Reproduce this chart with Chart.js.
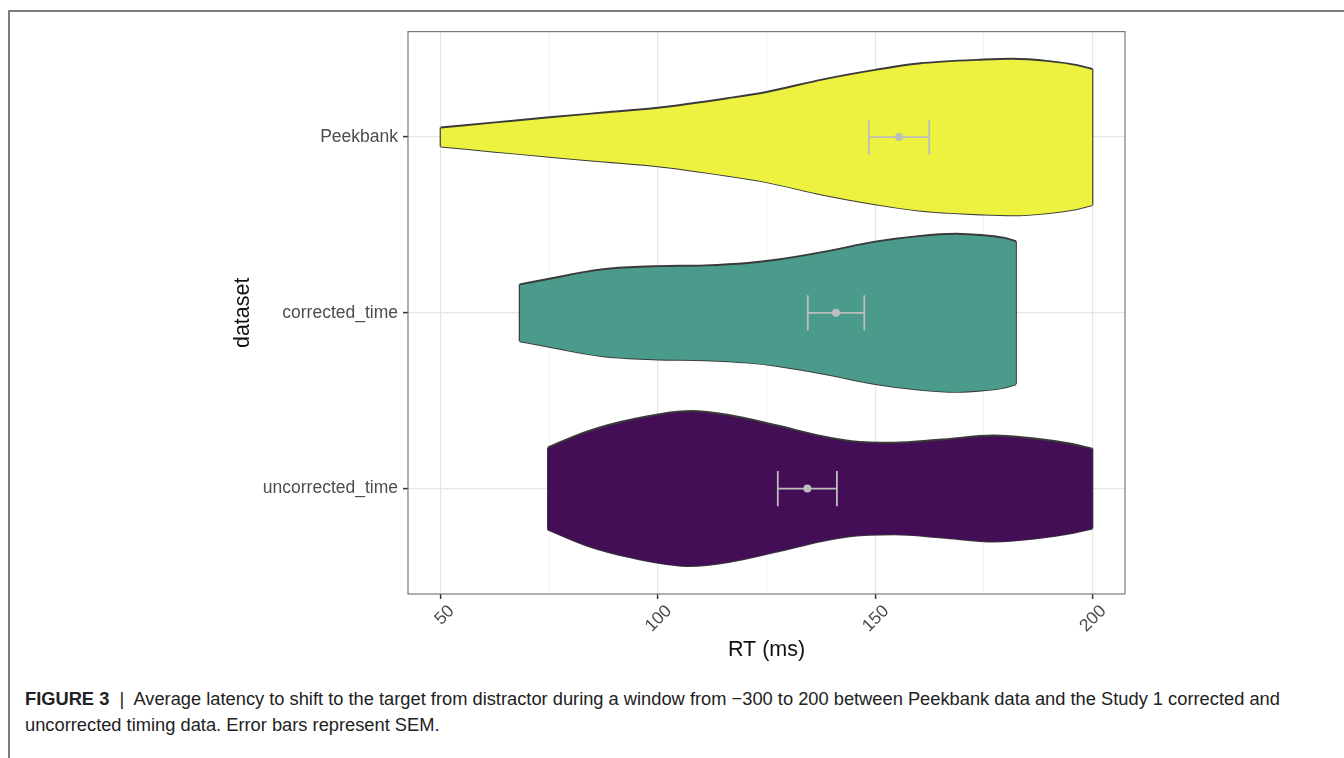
<!DOCTYPE html>
<html lang="en">

<head>
  <meta charset="UTF-8">
  <title>Figure 3 - RT by dataset</title>
  <script src="https://cdn.jsdelivr.net/npm/chart.js"></script>
  <style>
    body { margin: 0; background: #fff; font-family: "Liberation Sans", Arial, sans-serif; }
    #wrap { position: relative; width: 1344px; height: 758px; overflow: hidden; }
    #frame { position: absolute; left: 8px; top: 10px; right: 0; bottom: 0; border-top: 2px solid #7d7d7d; border-left: 2px solid #7d7d7d; }
    #chartBox { position: absolute; left: 0; top: 0; width: 1344px; height: 680px; }
    #caption { position: absolute; left: 25px; top: 686px; font-size: 18.3px; line-height: 26px; color: #222; white-space: nowrap; }
  </style>
</head>

<body>
  <div id="wrap">
    <div id="frame"></div>
    <div id="chartBox"><canvas id="violinChart" width="1344" height="680"></canvas></div>
    <div id="caption"><b>FIGURE 3</b> <b style="font-weight:normal">&nbsp;|&nbsp;</b> Average latency to shift to the target from distractor during a window from −300 to 200 between Peekbank data and the Study 1 corrected and<br>uncorrected timing data. Error bars represent SEM.</div>
  </div>
  <script>
    // categories, top to bottom
    const categories = ['Peekbank', 'corrected_time', 'uncorrected_time']
    const xTicks = [50, 75, 100, 125, 150, 175, 200]
    const xTickLabels = ['50', '', '100', '', '150', '', '200']

    // violin outlines: RT sample points and relative half-width (1 = widest)
    const peekbankRT = [50, 62.5, 75, 87.5, 100, 116, 125, 138, 150, 160, 175, 181.5, 190, 196.5, 200]
    const peekbankDensity = [0.12, 0.185, 0.25, 0.31, 0.37, 0.49, 0.57, 0.73, 0.85, 0.93, 0.98, 0.99, 0.96, 0.91, 0.86]
    const correctedRT = [68.2, 75, 83.6, 89.1, 100, 110.9, 120.7, 127.2, 138.1, 150, 159.9, 168.6, 175.1, 179.5, 182.4]
    const correctedDensity = [0.36, 0.43, 0.52, 0.56, 0.59, 0.6, 0.63, 0.67, 0.77, 0.9, 0.97, 1.0, 0.98, 0.95, 0.905]
    const uncorrectedRT = [74.7, 83.6, 94.5, 107.6, 116.3, 127.2, 138.1, 144.6, 154.4, 165.3, 177.3, 187.1, 194.7, 200]
    const uncorrectedDensity = [0.52, 0.72, 0.88, 0.98, 0.93, 0.8, 0.66, 0.6, 0.58, 0.62, 0.67, 0.63, 0.57, 0.505]

    // mean RT and SEM per dataset (same order as categories)
    const meanRT = [155.5, 141.0, 134.4]
    const semRT = [6.95, 6.5, 6.8]

    const fillColors = ['#ecf23f', '#4a9b8c', '#440e57']
    const outline = '#3a3a3a'
    const errColor = '#bdbdbd'
    const violinHalf = 0.45
    const capHalf = 0.1

    const violins = [
      { rt: peekbankRT, dens: peekbankDensity },
      { rt: correctedRT, dens: correctedDensity },
      { rt: uncorrectedRT, dens: uncorrectedDensity }
    ]

    const catPos = i => categories.length - i

    const datasets = []
    violins.forEach((v, i) => {
      const pos = catPos(i)
      const upper = v.rt.map((x, j) => ({ x, y: pos + v.dens[j] * violinHalf }))
      const lower = v.rt.map((x, j) => ({ x, y: pos - v.dens[j] * violinHalf }))
      const n = v.rt.length - 1
      datasets.push({
        data: upper, fill: '+1', backgroundColor: fillColors[i], borderColor: outline,
        borderWidth: 1.9, pointRadius: 0, cubicInterpolationMode: 'monotone', order: 2
      })
      datasets.push({
        data: lower, fill: false, borderColor: outline,
        borderWidth: 1.9, pointRadius: 0, cubicInterpolationMode: 'monotone', order: 2
      })
      // flat ends of the violin
      datasets.push({
        data: [lower[0], upper[0], { x: v.rt[0], y: null }, lower[n], upper[n]],
        fill: false, borderColor: outline, borderWidth: 1.9, pointRadius: 0, spanGaps: false, order: 2
      })
    })

    // error bars and means
    meanRT.forEach((m, i) => {
      const pos = catPos(i)
      const lo = m - semRT[i], hi = m + semRT[i]
      datasets.push({
        data: [
          { x: lo, y: pos - capHalf }, { x: lo, y: pos + capHalf }, { x: lo, y: null },
          { x: lo, y: pos }, { x: hi, y: pos }, { x: hi, y: null },
          { x: hi, y: pos - capHalf }, { x: hi, y: pos + capHalf }
        ],
        fill: false, borderColor: errColor, borderWidth: 1.8, pointRadius: 0, spanGaps: false, order: 1
      })
      datasets.push({
        data: [{ x: m, y: pos }], showLine: false, pointRadius: 4, pointBorderWidth: 0,
        pointBackgroundColor: errColor, order: 0
      })
    })

    const panelBorder = {
      id: 'panelBorder',
      afterDraw(chart) {
        const { ctx, chartArea: a } = chart
        ctx.save()
        ctx.strokeStyle = '#7a7a7a'
        ctx.lineWidth = 1.2
        ctx.strokeRect(a.left, a.top, a.right - a.left, a.bottom - a.top)
        ctx.restore()
      }
    }

    const tickFont = { family: '"Liberation Sans", Arial, sans-serif', size: 17.5 }
    const titleFont = { family: '"Liberation Sans", Arial, sans-serif', size: 21.5 }

    new Chart(document.getElementById('violinChart').getContext('2d'), {
      type: 'scatter',
      data: { datasets: datasets.map(d => ({ showLine: true, tension: 0, ...d })) },
      options: {
        responsive: false,
        devicePixelRatio: 1,
        animation: false,
        layout: { padding: { left: 230, right: 219, top: 31.6, bottom: 17 } },
        plugins: { legend: { display: false }, tooltip: { enabled: false } },
        scales: {
          x: {
            type: 'linear', min: 42.5, max: 207.5,
            afterBuildTicks: axis => { axis.ticks = xTicks.map(v => ({ value: v })) },
            afterFit: scale => { scale.height = 69 },
            ticks: {
              callback: (v, idx) => xTickLabels[xTicks.indexOf(v)],
              minRotation: 45, maxRotation: 45, autoSkip: false,
              labelOffset: 11, padding: 2, color: '#4d4d4d', font: tickFont
            },
            grid: {
              color: ctx => (ctx.tick && ctx.tick.value % 50 === 0) ? '#e6e6e6' : '#f0f0f0',
              lineWidth: ctx => (ctx.tick && ctx.tick.value % 50 === 0) ? 1.2 : 0.9,
              tickColor: ctx => (ctx.tick && ctx.tick.value % 50 === 0) ? '#333' : 'rgba(0,0,0,0)',
              tickWidth: 1.5, tickLength: 5
            },
            border: { display: false },
            title: { display: true, text: 'RT (ms)', color: '#111', font: titleFont, padding: 0 }
          },
          y: {
            type: 'linear', min: 0.4, max: 3.6,
            afterBuildTicks: axis => { axis.ticks = categories.map((c, i) => ({ value: catPos(i) })) },
            afterFit: scale => { scale.width = 178 },
            ticks: {
              callback: v => categories[categories.length - v],
              padding: 5, color: '#4d4d4d', font: tickFont
            },
            grid: { color: '#e6e6e6', lineWidth: 1.2, tickColor: '#333', tickWidth: 1.5, tickLength: 5 },
            border: { display: false },
            title: { display: true, text: 'dataset', color: '#111', font: titleFont, padding: 0 }
          }
        }
      },
      plugins: [panelBorder]
    })
  </script>
</body>

</html>
